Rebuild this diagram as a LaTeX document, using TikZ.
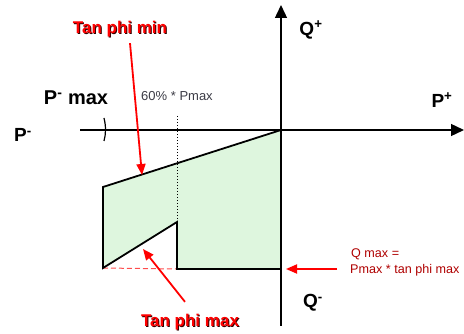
\documentclass[tikz,border=0pt]{standalone}
\usepackage{fontspec}
\setmainfont{Liberation Sans}
\usetikzlibrary{arrows.meta}
\definecolor{zonefill}{RGB}{222,246,222}
\definecolor{darkred}{RGB}{175,0,0}
\definecolor{labgray}{RGB}{60,60,70}
\begin{document}
\begin{tikzpicture}[x=1pt,y=-1pt,
  axis/.style={line width=1.4pt,-{Triangle[length=13pt,width=12pt]}},
  outline/.style={line width=1.8pt,line join=miter},
  redarrow/.style={red,line width=1.8pt,-{Triangle[length=11pt,width=9pt]}},
  biglab/.style={font=\bfseries\fontsize{19}{22}\selectfont,inner sep=0pt},
  redlab/.style={font=\bfseries\fontsize{17}{20}\selectfont,inner sep=0pt,text=red},
  shadowlab/.style={font=\bfseries\fontsize{17}{20}\selectfont,inner sep=0pt,text=black!80!red},
  qlab/.style={font=\fontsize{12.6}{15}\selectfont,inner sep=0pt,text=darkred,anchor=west}]
\useasboundingbox (0,0) rectangle (464,334);
% corners
\coordinate (O) at (281,130);
\coordinate (A) at (103,187);
\coordinate (B) at (103,268);
\coordinate (C) at (177,222);
\coordinate (D) at (177,269);
\coordinate (E) at (281,269);
% fill
\fill[zonefill] (O) -- (A) -- (B) -- (C) -- (D) -- (E) -- cycle;
% red dashed base
\draw[red!70,line width=1pt,dash pattern=on 5pt off 3pt] (B) -- (D);
% dotted 60% line
\coordinate (Ftop) at (177,116);
\draw[line width=1pt,dotted] (Ftop) -- (C);
% outline
\draw[outline] (O) -- (A) -- (B) -- (C) -- (D) -- (E);
% axes
\coordinate (Xs) at (80,130);
\coordinate (Xe) at (464,130);
\coordinate (Ys) at (281,326);
\coordinate (Ye) at (281,5);
\draw[axis] (Xs) -- (Xe);
\draw[axis] (Ys) -- (Ye);
% tick at P- max
\coordinate (T1) at (104,118);
\coordinate (T2) at (104,141);
\draw[line width=1.2pt] (T1) .. controls (106,126) and (106,134) .. (T2);
% labels
\node[biglab] (pminus) at (23,135) {P\textsuperscript{-}};
\node[biglab,font=\bfseries\fontsize{20}{22}\selectfont] (pmax) at (76,98) {P\textsuperscript{-} max};
\node[biglab] (qplus) at (311,30) {Q\textsuperscript{+}};
\node[biglab] (pplus) at (442,100) {P\textsuperscript{+}};
\node[biglab] (qminus) at (313,303) {Q\textsuperscript{-}};
\node[inner sep=0pt,text=labgray,font=\fontsize{13}{15}\selectfont] (sixty) at (177,96) {60\% * Pmax};
% red labels with shadow
\node[shadowlab] at (121,30) {Tan phi min};
\node[redlab] (tmin) at (120,29) {Tan phi min};
\node[shadowlab] at (191,323) {Tan phi max};
\node[redlab] (tmax) at (190,322) {Tan phi max};
\node[qlab] (qmax1) at (351,254) {Q max =};
\node[qlab] (qmax2) at (350,270) {Pmax * tan phi max};
% red arrows
\coordinate (tminTip) at (142,175);
\coordinate (tmaxTip) at (143,249);
\coordinate (qTip) at (286,269);
\coordinate (qStart) at (337,269);
\draw[redarrow] (tmin.south) ++(10,6) -- (tminTip);
\draw[redarrow] (tmax.north) ++(-5,-12) -- (tmaxTip);
\draw[redarrow] (qStart) -- (qTip);
\end{tikzpicture}
\end{document}
